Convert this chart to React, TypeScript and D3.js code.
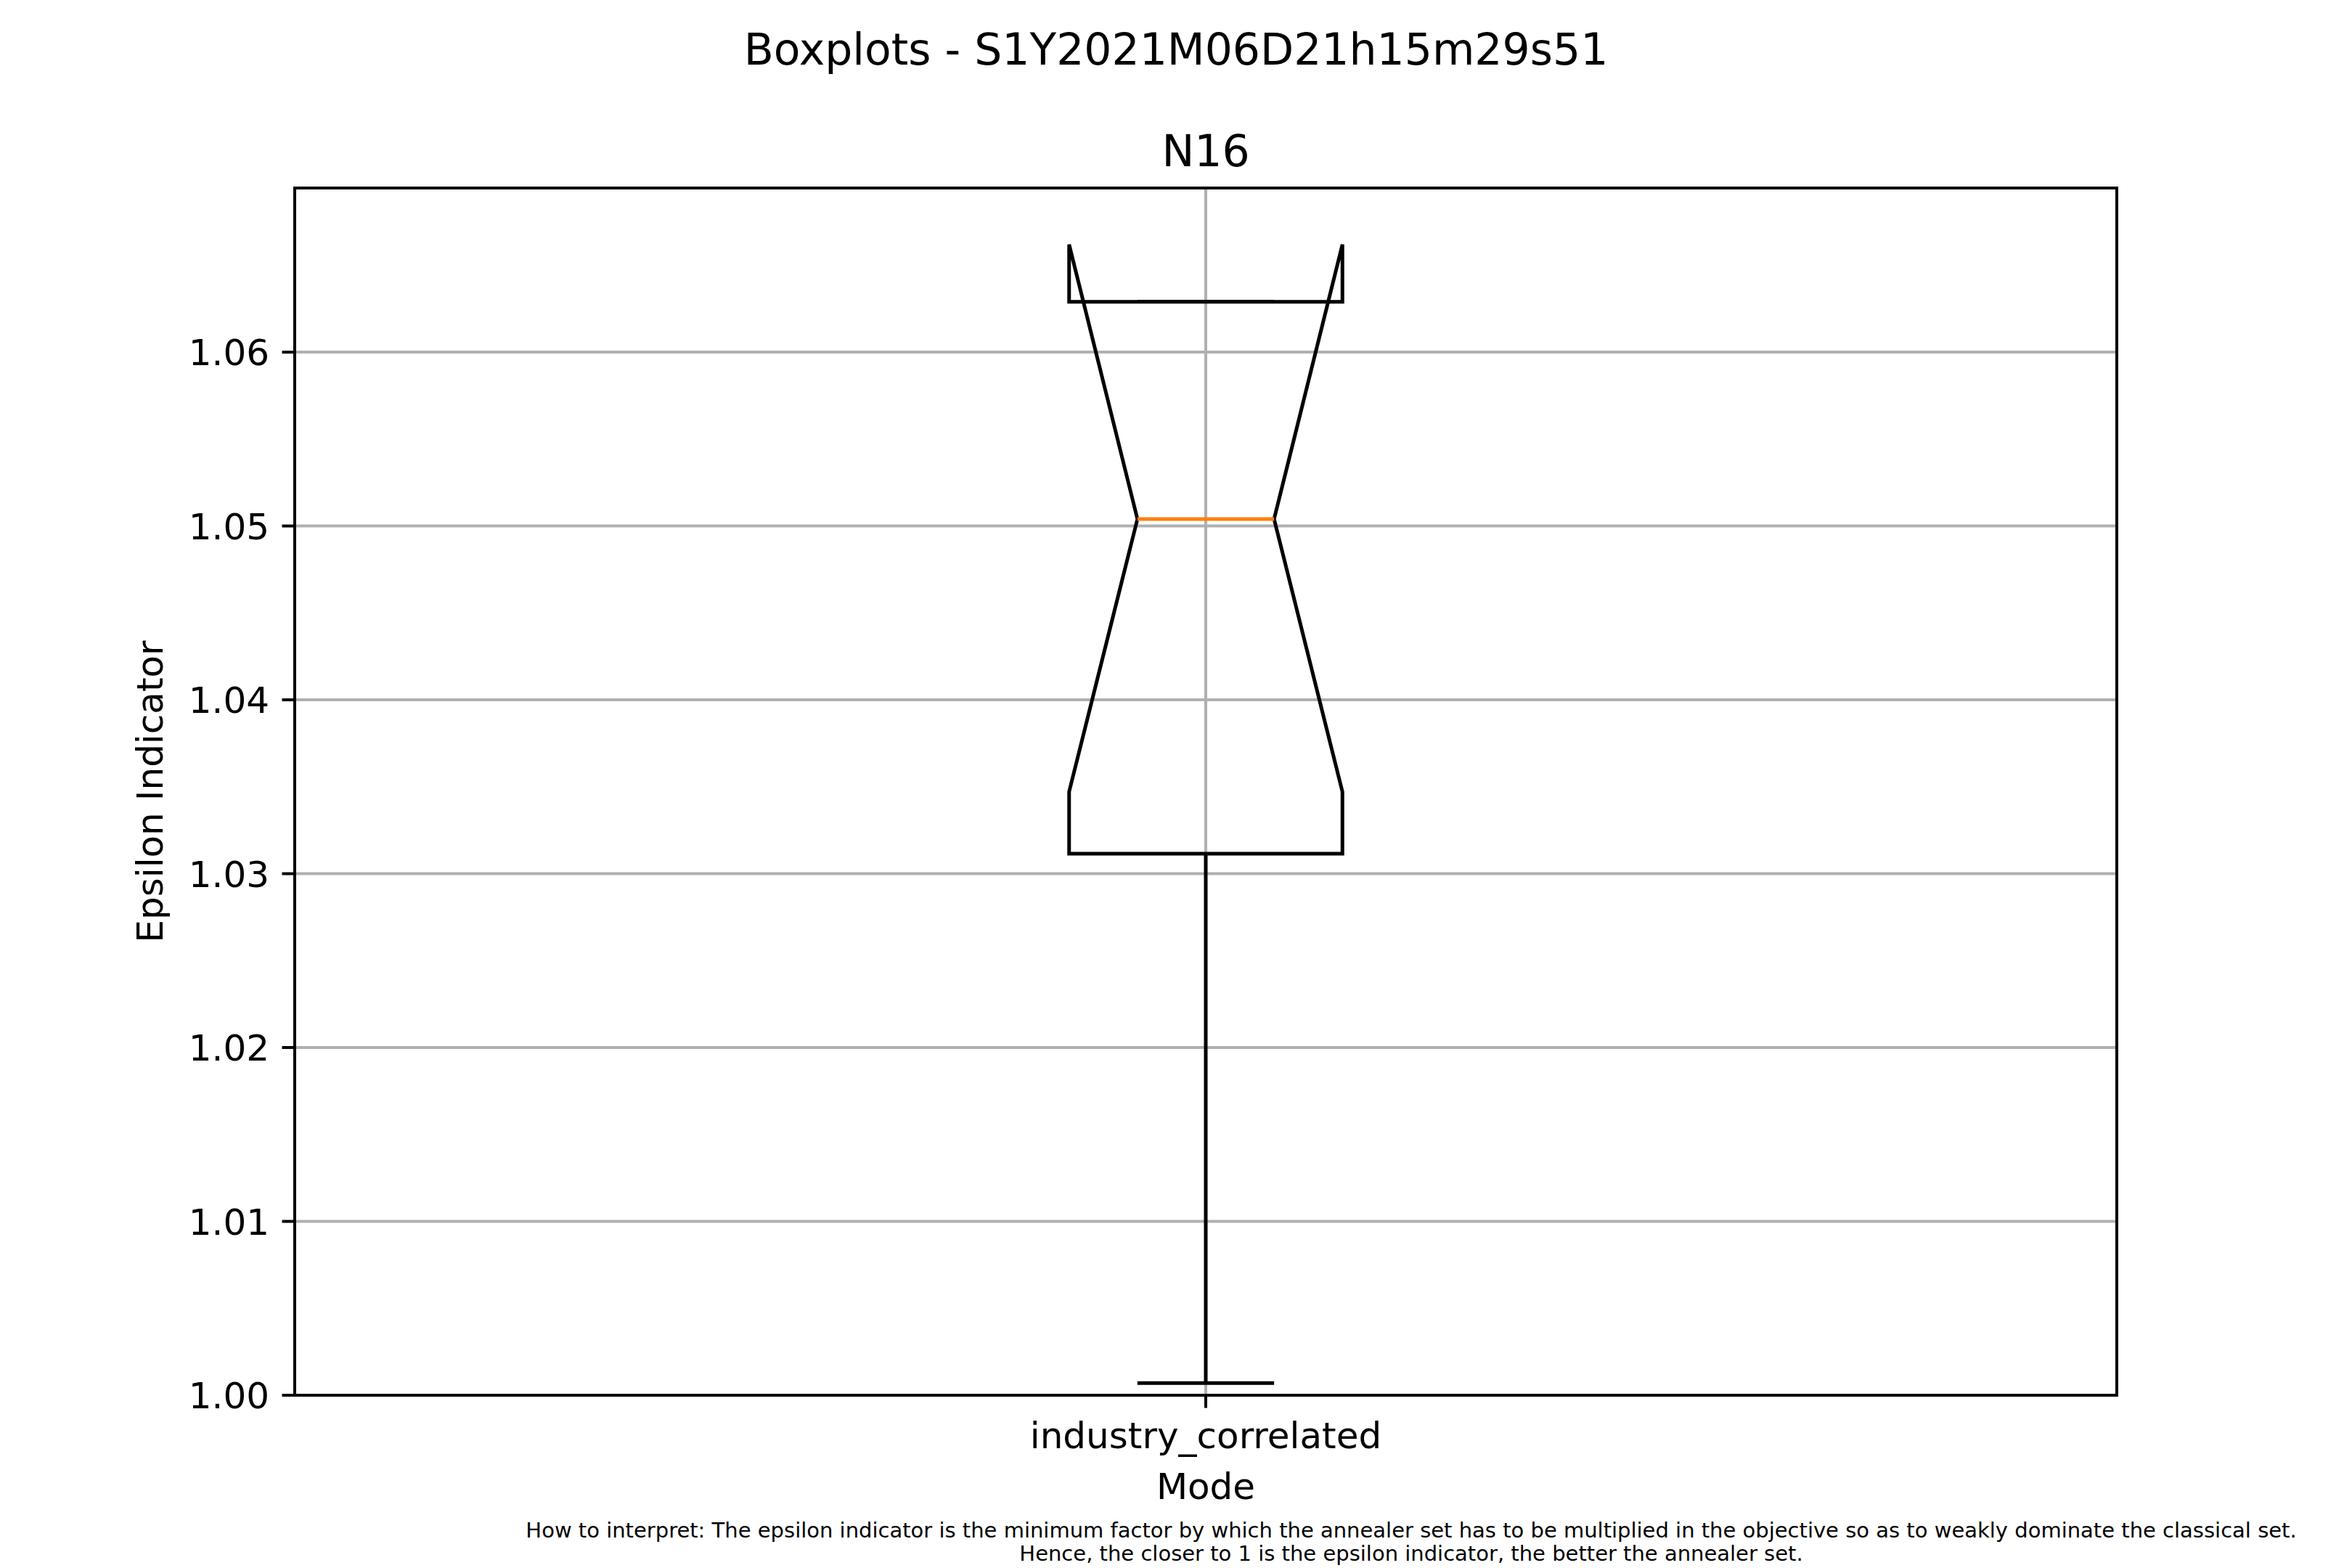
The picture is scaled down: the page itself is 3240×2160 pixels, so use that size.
import { useEffect } from 'react';
import * as d3 from 'd3';

// ─── Data ───────────────────────────────────────────────────

const categories = ['industry_correlated'];
const whiskerLow = [1.0007];
const q1 = [1.03115];
const median = [1.0504];
const q3 = [1.0629];
const whiskerHigh = [1.0629];
const notchLow = [1.03471];
const notchHigh = [1.06619];

const yTicks = [1.0, 1.01, 1.02, 1.03, 1.04, 1.05, 1.06];

const suptitle = 'Boxplots - S1Y2021M06D21h15m29s51';
const axTitle = 'N16';
const xLabel = 'Mode';
const yLabel = 'Epsilon Indicator';
const noteLines = [
  'How to interpret: The epsilon indicator is the minimum factor by which the annealer set has to be multiplied in the objective so as to weakly dominate the classical set.',
  'Hence, the closer to 1 is the epsilon indicator, the better the annealer set.',
];

// ─── Layout ─────────────────────────────────────────────────

const W = 3240;
const H = 2160;
const plot = { left: 406, right: 2916, top: 259, bottom: 1922 };
const FONT = '"DejaVu Sans", sans-serif';
const GRID = '#b0b0b0';
const boxWidth = 0.15;

export default function App() {
  useEffect(() => {
    document.body.style.margin = '0';
  }, []);

  const x = d3.scaleLinear().domain([0.5, 1.5]).range([plot.left, plot.right]);
  const y = d3.scaleLinear().domain([1.0, 1.06944]).range([plot.bottom, plot.top]);

  const positions = categories.map((_, i) => i + 1);

  return (
    <svg width={W} height={H} style={{ display: 'block', background: '#fff' }} fontFamily={FONT}>
      {/* grid */}
      {yTicks.map((t) => (
        <line key={`gy${t}`} x1={plot.left} x2={plot.right} y1={y(t)} y2={y(t)} stroke={GRID} strokeWidth={4} />
      ))}
      {positions.map((p) => (
        <line key={`gx${p}`} x1={x(p)} x2={x(p)} y1={plot.top} y2={plot.bottom} stroke={GRID} strokeWidth={4} />
      ))}

      {/* boxes */}
      {categories.map((c, i) => {
        const p = positions[i];
        const l = x(p - boxWidth / 2);
        const r = x(p + boxWidth / 2);
        const il = x(p - boxWidth / 4);
        const ir = x(p + boxWidth / 4);
        const pts: [number, number][] = [
          [l, y(q1[i])],
          [r, y(q1[i])],
          [r, y(notchLow[i])],
          [ir, y(median[i])],
          [r, y(notchHigh[i])],
          [r, y(q3[i])],
          [l, y(q3[i])],
          [l, y(notchHigh[i])],
          [il, y(median[i])],
          [l, y(notchLow[i])],
        ];
        const path = d3.line()(pts) + 'Z';
        return (
          <g key={c} fill="none" stroke="#000" strokeWidth={5} strokeLinejoin="miter">
            <path d={path} />
            <line x1={x(p)} x2={x(p)} y1={y(q1[i])} y2={y(whiskerLow[i])} />
            <line x1={x(p)} x2={x(p)} y1={y(q3[i])} y2={y(whiskerHigh[i])} />
            <line x1={il} x2={ir} y1={y(whiskerLow[i])} y2={y(whiskerLow[i])} />
            <line x1={il} x2={ir} y1={y(whiskerHigh[i])} y2={y(whiskerHigh[i])} />
            <line x1={il} x2={ir} y1={y(median[i])} y2={y(median[i])} stroke="#ff7f0e" />
          </g>
        );
      })}

      {/* spines */}
      <rect
        x={plot.left}
        y={plot.top}
        width={plot.right - plot.left}
        height={plot.bottom - plot.top}
        fill="none"
        stroke="#000"
        strokeWidth={4}
      />

      {/* y ticks */}
      {yTicks.map((t) => (
        <g key={`ty${t}`}>
          <line x1={plot.left - 17.5} x2={plot.left} y1={y(t)} y2={y(t)} stroke="#000" strokeWidth={4} />
          <text x={plot.left - 35} y={y(t)} dy="0.36em" textAnchor="end" fontSize={50} fill="#000">
            {d3.format('.2f')(t)}
          </text>
        </g>
      ))}

      {/* x ticks */}
      {categories.map((c, i) => (
        <g key={`tx${c}`}>
          <line x1={x(positions[i])} x2={x(positions[i])} y1={plot.bottom} y2={plot.bottom + 17.5} stroke="#000" strokeWidth={4} />
          <text x={x(positions[i])} y={1995} textAnchor="middle" fontSize={50} fill="#000">
            {c}
          </text>
        </g>
      ))}

      {/* labels */}
      <text x={(plot.left + plot.right) / 2} y={2065} textAnchor="middle" fontSize={50}>
        {xLabel}
      </text>
      <text transform={`translate(224,${(plot.top + plot.bottom) / 2}) rotate(-90)`} textAnchor="middle" fontSize={50}>
        {yLabel}
      </text>
      <text x={(plot.left + plot.right) / 2} y={229} textAnchor="middle" fontSize={60}>
        {axTitle}
      </text>
      <text x={1620} y={89} textAnchor="middle" fontSize={60}>
        {suptitle}
      </text>

      {/* note */}
      {noteLines.map((s, i) => (
        <text key={i} x={1944} y={2118 + i * 32} textAnchor="middle" fontSize={29}>
          {s}
        </text>
      ))}
    </svg>
  );
}
